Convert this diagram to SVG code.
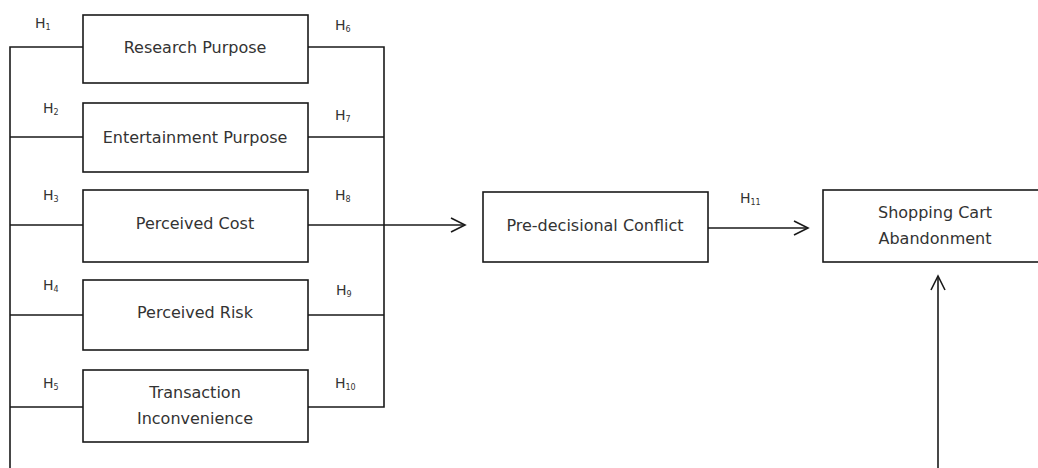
<svg xmlns="http://www.w3.org/2000/svg" width="1038" height="468" viewBox="0 0 1038 468">
<style>
.box{fill:#fff;stroke:#1a1a1a;stroke-width:1.6}
.ln{fill:none;stroke:#1a1a1a;stroke-width:1.6}
.t{font-family:"DejaVu Sans",sans-serif;font-size:16px;fill:#333;text-anchor:middle}
.h{font-family:"DejaVu Sans",sans-serif;font-size:14px;fill:#333}
.s{font-size:8px}
</style>
<defs>
<marker id="arr" markerUnits="userSpaceOnUse" viewBox="-16 -10 18 20" markerWidth="18" markerHeight="20" refX="0" refY="0" orient="auto">
<path d="M-14,-7 L0,0 L-14,7" fill="none" stroke="#1a1a1a" stroke-width="1.6"/>
</marker>
</defs>
<rect width="1038" height="468" fill="#fff"/>
<g id="connectors">
<path class="ln" d="M10,468 V47 H83"/>
<path class="ln" d="M10,137 H83 M10,225 H83 M10,315 H83 M10,407 H83"/>
<path class="ln" d="M308,47 H384 V407 H308"/>
<path class="ln" d="M308,137 H384 M308,315 H384"/>
<path class="ln" d="M308,225 H465" marker-end="url(#arr)"/>
<path class="ln" d="M708,228 H808" marker-end="url(#arr)"/>
<path class="ln" d="M938,468 V276" marker-end="url(#arr)"/>
</g>
<g id="labels">
<text class="h" x="35" y="28">H<tspan class="s" dy="2">1</tspan></text>
<text class="h" x="43" y="113">H<tspan class="s" dy="2">2</tspan></text>
<text class="h" x="43" y="200">H<tspan class="s" dy="2">3</tspan></text>
<text class="h" x="43" y="290">H<tspan class="s" dy="2">4</tspan></text>
<text class="h" x="43" y="388">H<tspan class="s" dy="2">5</tspan></text>
<text class="h" x="335" y="30">H<tspan class="s" dy="2">6</tspan></text>
<text class="h" x="335" y="120">H<tspan class="s" dy="2">7</tspan></text>
<text class="h" x="335" y="200">H<tspan class="s" dy="2">8</tspan></text>
<text class="h" x="336" y="295">H<tspan class="s" dy="2">9</tspan></text>
<text class="h" x="335" y="388">H<tspan class="s" dy="2">10</tspan></text>
<text class="h" x="740" y="203">H<tspan class="s" dy="2">11</tspan></text>
</g>
<g id="research-purpose">
<rect class="box" x="83" y="15" width="225" height="68"/>
<text class="t" x="195" y="53">Research Purpose</text>
</g>
<g id="entertainment-purpose">
<rect class="box" x="83" y="103" width="225" height="69"/>
<text class="t" x="195" y="143">Entertainment Purpose</text>
</g>
<g id="perceived-cost">
<rect class="box" x="83" y="190" width="225" height="72"/>
<text class="t" x="195" y="229">Perceived Cost</text>
</g>
<g id="perceived-risk">
<rect class="box" x="83" y="280" width="225" height="70"/>
<text class="t" x="195" y="318">Perceived Risk</text>
</g>
<g id="transaction-inconvenience">
<rect class="box" x="83" y="370" width="225" height="72"/>
<text class="t" x="195" y="398">Transaction</text>
<text class="t" x="195" y="424">Inconvenience</text>
</g>
<g id="pre-decisional-conflict">
<rect class="box" x="483" y="192" width="225" height="70"/>
<text class="t" x="595" y="231">Pre-decisional Conflict</text>
</g>
<g id="shopping-cart-abandonment">
<rect class="box" x="823" y="190" width="226" height="72"/>
<text class="t" x="935" y="218">Shopping Cart</text>
<text class="t" x="935" y="244">Abandonment</text>
</g>
</svg>
